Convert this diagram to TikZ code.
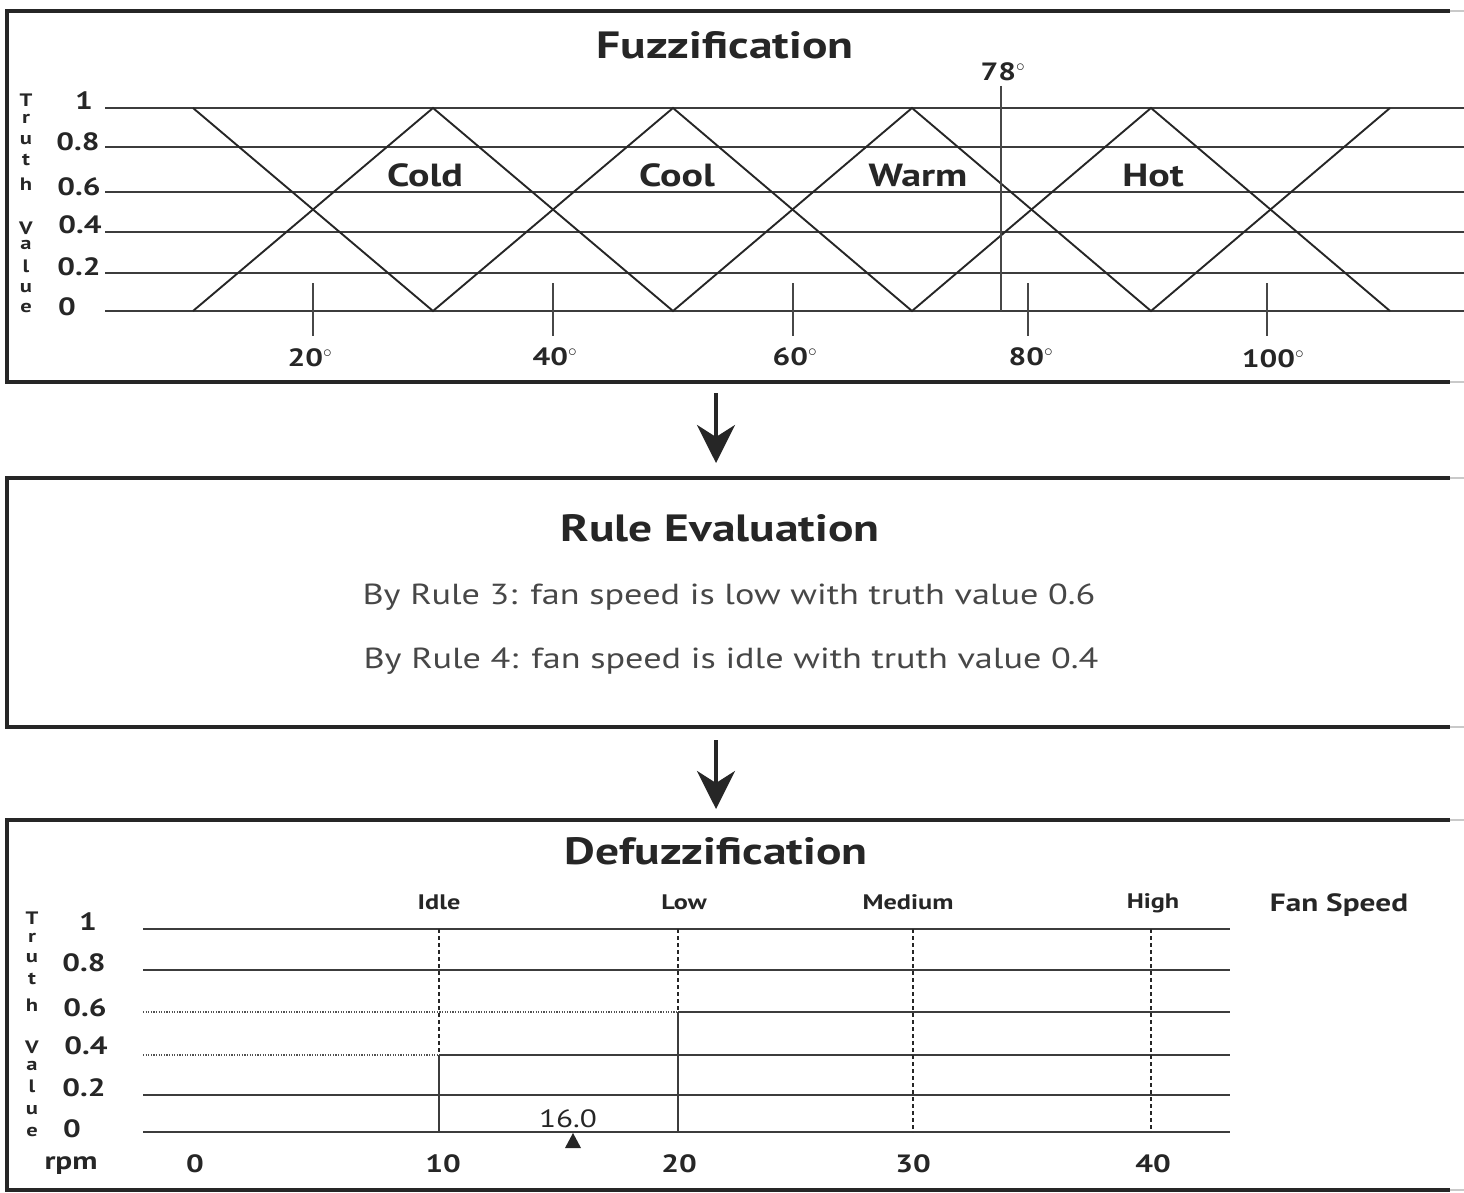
\documentclass[tikz,border=0pt]{standalone}
\usepackage{fontspec}
\setmainfont{PT Sans}[FakeStretch=1.25]
\usetikzlibrary{arrows.meta}
\newcommand\fsz[1]{\fontsize{#1}{#1}\selectfont}
\definecolor{ink}{HTML}{262626}
\begin{document}
\begin{tikzpicture}[x=1pt,y=-1pt,
  frame/.style={draw=ink, line width=4pt},
  frametail/.style={draw=ink!25, line width=1.5pt},
  gridline/.style={draw=ink!90, line width=1.4pt},
  dotline/.style={draw=ink!80, line width=1.2pt, dash pattern=on 1.2pt off 1.4pt},
  dashline/.style={draw=ink, line width=1.4pt, dash pattern=on 4pt off 3pt},
  zig/.style={draw=ink, line width=1.9pt},
  tickline/.style={draw=ink!85, line width=1.2pt},
  flow/.style={draw=ink, line width=4pt, -{Stealth[length=38pt,width=38pt,inset=12pt]}},
  title/.style={text=ink, font=\fsz{38}\bfseries, inner sep=0pt},
  setname/.style={text=ink, font=\fsz{32}\bfseries, inner sep=0pt},
  axnum/.style={text=ink, font=\fsz{25}\bfseries, inner sep=0pt},
  tvletter/.style={text=ink, font=\fsz{18}\bfseries, inner sep=0pt},
  ruletext/.style={text=ink!85, font=\fsz{29}, inner sep=0pt},
  speedname/.style={text=ink, font=\fsz{21}\bfseries, inner sep=0pt},
]
\useasboundingbox (0,0) rectangle (1464,1193);

%%%%%%%%%%%%%%%% Fuzzification box
\draw[frame] (1450,11) -- (7,11) -- (7,382) -- (1450,382);
\draw[frametail] (1450,11) -- (1464,11);
\draw[frametail] (1450,382) -- (1464,382);
\node[title] (fuzz) at (725,45) {Fuzzification};

\foreach \y/\n in {108/g1,147/g2,192/g3,232/g4,273/g5,311/g6}
  \draw[gridline] (105,\y) coordinate (\n s) -- (1464,\y) coordinate (\n e);

\node[axnum] (f1) at (84,101) {1};
\node[axnum] (f08) at (78,142) {0.8};
\node[axnum] (f06) at (79,187) {0.6};
\node[axnum] (f04) at (80,225) {0.4};
\node[axnum] (f02) at (79,267) {0.2};
\node[axnum] (f0) at (67,307) {0};

\foreach \l/\y [count=\i] in {T/100,r/119,u/140,t/160,h/184,V/228,a/245,l/266,u/288,e/308}
  \node[tvletter] (ftv\i) at (26,\y) {\l};

% membership zigzags
\draw[zig] (193,108) -- (433,311) -- (673,108) -- (912,311) -- (1151,108) -- (1390,311);
\draw[zig] (193,311) -- (433,108) -- (673,311) -- (912,108) -- (1151,311) -- (1390,108);

\node[setname] (cold) at (425,175) {Cold};
\node[setname] (cool) at (677,175) {Cool};
\node[setname] (warm) at (918,175) {Warm};
\node[setname] (hot) at (1153,176) {Hot};

% ticks
\foreach \x/\t in {313/20,553/40,793/60,1028/80,1267/100}
  \draw[tickline] (\x,283) -- (\x,336);
\node[axnum] (d20) at (310,358) {20$^{\circ}$};
\node[axnum] (d40) at (555,357) {40$^{\circ}$};
\node[axnum] (d60) at (795,357) {60$^{\circ}$};
\node[axnum] (d80) at (1031,357) {80$^{\circ}$};
\node[axnum] (d100) at (1273,359) {100$^{\circ}$};

% 78 degree reading
\coordinate (m78top) at (1001,86);
\coordinate (m78bot) at (1001,311);
\draw[tickline, line width=1.5pt] (m78top) -- (m78bot);
\node[axnum] (d78) at (1003,72) {78$^{\circ}$};

%%%%%%%%%%%%%%%% arrow 1
\coordinate (a1s) at (716,393);
\coordinate (a1e) at (716,463);
\draw[flow] (a1s) -- (a1e);

%%%%%%%%%%%%%%%% Rule evaluation box
\draw[frame] (1450,478) -- (7,478) -- (7,727) -- (1450,727);
\draw[frametail] (1450,478) -- (1464,478);
\draw[frametail] (1450,727) -- (1464,727);
\node[title] (rule) at (720,528) {Rule Evaluation};
\node[ruletext] (r3) at (729,597) {By Rule 3: fan speed is low with truth value 0.6};
\node[ruletext] (r4) at (731,661) {By Rule 4: fan speed is idle with truth value 0.4};

%%%%%%%%%%%%%%%% arrow 2
\coordinate (a2s) at (716,740);
\coordinate (a2e) at (716,809);
\draw[flow] (a2s) -- (a2e);

%%%%%%%%%%%%%%%% Defuzzification box
\draw[frame] (1450,820) -- (7,820) -- (7,1190) -- (1450,1190);
\draw[frametail] (1450,820) -- (1464,820);
\draw[frametail] (1450,1190) -- (1464,1190);
\node[title] (defuzz) at (716,851) {Defuzzification};

\draw[gridline] (143,929) -- (1230,929);
\draw[gridline] (143,970) -- (1230,970);
\draw[dotline] (143,1012) -- (678,1012);
\draw[gridline] (678,1012) -- (1230,1012);
\draw[dotline] (143,1055) -- (439,1055);
\draw[gridline] (439,1055) -- (1230,1055);
\draw[gridline] (143,1095) -- (1230,1095);
\draw[gridline] (143,1132) -- (1230,1132);

% singletons
\draw[dashline] (439,929) -- (439,1055);
\draw[gridline, line width=1.6pt] (439,1055) -- (439,1132);
\draw[dashline] (678,929) -- (678,1012);
\draw[gridline, line width=1.6pt] (678,1012) -- (678,1132);
\draw[dashline] (913,929) -- (913,1132);
\draw[dashline] (1151,929) -- (1151,1132);

\node[speedname] (idle) at (439,902) {Idle};
\node[speedname] (low) at (684,902) {Low};
\node[speedname] (med) at (908,902) {Medium};
\node[speedname] (high) at (1153,903) {High};
\node[text=ink, font=\fsz{25}\bfseries, inner sep=0pt] (fan) at (1339,905) {Fan Speed};

\node[axnum] (b1) at (88,922) {1};
\node[axnum] (b08) at (84,963) {0.8};
\node[axnum] (b06) at (85,1008) {0.6};
\node[axnum] (b04) at (86,1046) {0.4};
\node[axnum] (b02) at (84,1088) {0.2};
\node[axnum] (b0) at (72,1129) {0};
\node[axnum] (rpm) at (71,1166) {rpm};

\foreach \l/\y [count=\i] in {T/918,r/938,u/958,t/979,h/1005,V/1047,a/1066,l/1086,u/1110,e/1132}
  \node[tvletter] (btv\i) at (32,\y) {\l};

\node[axnum] (x0) at (195,1164) {0};
\node[axnum] (x10) at (443,1164) {10};
\node[axnum] (x20) at (679,1164) {20};
\node[axnum] (x30) at (913,1164) {30};
\node[axnum] (x40) at (1153,1164) {40};

\node[text=ink, font=\fsz{25}, inner sep=0pt] (cog) at (568,1119) {16.0};
\fill[ink] (565,1148) -- (581,1148) -- (573,1133) -- cycle;

\end{tikzpicture}
\end{document}
